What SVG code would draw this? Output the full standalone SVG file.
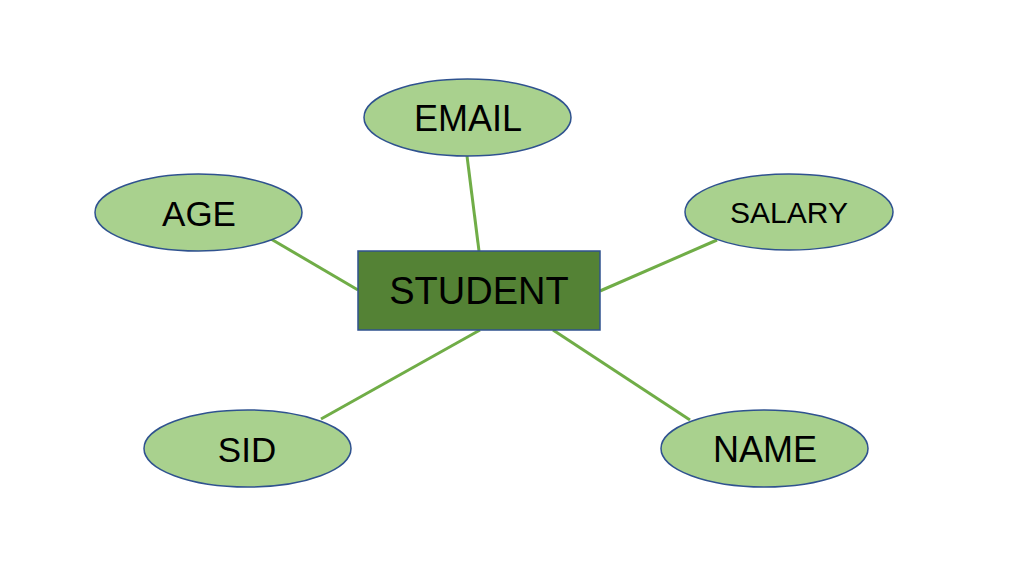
<svg xmlns="http://www.w3.org/2000/svg" width="1030" height="569" viewBox="0 0 1030 569">
<style>
.attr{fill:#a9d18e;stroke:#2f528f;stroke-width:1.5}
.ent{fill:#548235;stroke:#2f528f;stroke-width:1.5}
.lbl{font-family:"Liberation Sans",Arial,sans-serif;fill:#000;text-anchor:middle}
.conn line{stroke:#70ad47;stroke-width:3}
</style>
<rect width="1030" height="569" fill="#fff"/>
<g id="connectors" class="conn">
<line x1="467" y1="156" x2="479" y2="251"/>
<line x1="271" y1="239" x2="358" y2="290"/>
<line x1="717" y1="240" x2="600" y2="291"/>
<line x1="321" y1="419" x2="480" y2="330"/>
<line x1="690" y1="420" x2="553" y2="330"/>
</g>
<g id="student">
<rect class="ent" x="358" y="251" width="242" height="79"/>
<text class="lbl" x="479" y="304" font-size="38">STUDENT</text>
</g>
<g id="email">
<ellipse class="attr" cx="467.5" cy="117.5" rx="103.5" ry="38.5"/>
<text class="lbl" x="468" y="131" font-size="36">EMAIL</text>
</g>
<g id="age">
<ellipse class="attr" cx="198.5" cy="212.5" rx="103.5" ry="38.5"/>
<text class="lbl" x="199" y="226" font-size="35">AGE</text>
</g>
<g id="salary">
<ellipse class="attr" cx="789" cy="212" rx="104" ry="38"/>
<text class="lbl" x="789" y="223" font-size="30">SALARY</text>
</g>
<g id="sid">
<ellipse class="attr" cx="247.5" cy="448.5" rx="103.5" ry="38.5"/>
<text class="lbl" x="247" y="462" font-size="35">SID</text>
</g>
<g id="name">
<ellipse class="attr" cx="764.5" cy="448.5" rx="103.5" ry="38.5"/>
<text class="lbl" x="765" y="462" font-size="36">NAME</text>
</g>
</svg>
